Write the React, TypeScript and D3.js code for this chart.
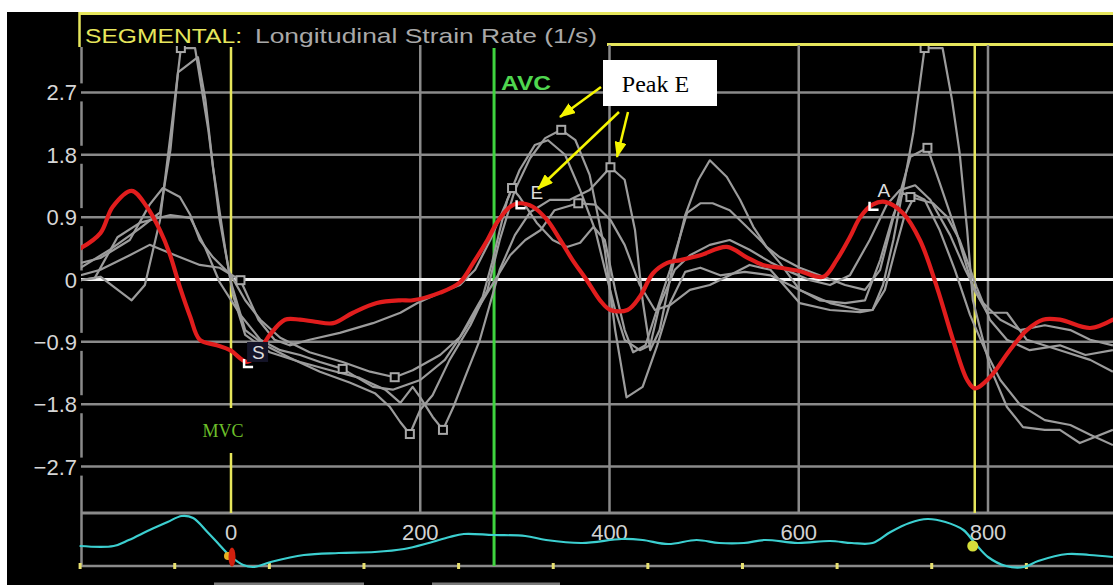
import React from 'react';
import * as d3 from 'd3';

const WIDTH = 1113;
const HEIGHT = 585;

// Axis ticks
const yTickValues = [2.7, 1.8, 0.9, 0, -0.9, -1.8, -2.7];
const timeGrid = [200, 400, 600, 800];
const stripTickLabels = [0, 200, 400, 600, 800];
const stripMinorTicks = [-160, -60, 40, 140, 240, 340, 440, 540, 640, 740, 840];

// Valve events (ms)
const mvcTime = 0;
const avcTime = 278;
const nextMvcTime = 786;

type Pt = [number, number];

// Global longitudinal strain rate (1/s) vs time (ms)
const globalRate: Pt[] = [
  [-159, 0.45], [-138, 0.67], [-125, 1.05], [-105, 1.28], [-89, 1.05], [-75, 0.71], [-65, 0.38],
  [-54, -0.11], [-43, -0.54], [-33, -0.87], [-15, -0.95], [-1, -1.02], [17, -1.19], [29, -1.05],
  [41, -0.8], [57, -0.58], [73, -0.58], [89, -0.61], [108, -0.63], [129, -0.48], [154, -0.34],
  [179, -0.3], [192, -0.3], [221, -0.19], [242, -0.04], [256, 0.24], [271, 0.57], [281, 0.82],
  [295, 1.05], [305, 1.1], [319, 1.05], [334, 0.86], [348, 0.57], [361, 0.28], [376, -0.01],
  [390, -0.3], [401, -0.44], [419, -0.44], [432, -0.25], [446, 0.09], [461, 0.24], [475, 0.28],
  [496, 0.35], [524, 0.47], [545, 0.32], [562, 0.21], [580, 0.17], [601, 0.12], [626, 0.04],
  [640, 0.28], [654, 0.61], [665, 0.9], [678, 1.08], [691, 1.12], [710, 0.96], [728, 0.57],
  [746, -0.11], [763, -0.87], [778, -1.45], [786, -1.57], [802, -1.41], [823, -1.02], [841, -0.73],
  [858, -0.58], [876, -0.58], [908, -0.7], [932, -0.58],
];

// Segmental strain rate curves (1/s) vs time (ms)
const segment1: Pt[] = [
  [-159, -0.01], [-138, 0.04], [-105, -0.3], [-91, -0.08], [-75, 0.86], [-62, 2.3], [-53, 3.34],
  [-38, 3.34], [-24, 2.16], [-12, 0.86], [0, -0.04], [15, -0.73], [36, -0.95], [62, -1.13],
  [94, -1.33], [126, -1.49], [152, -1.64], [168, -1.84], [179, -2.06], [189, -2.23], [200, -1.88],
  [213, -1.67], [231, -1.16], [253, -0.66], [271, -0.15], [284, 0.57], [300, 1.29], [316, 1.75],
  [332, 2.04], [349, 2.16], [364, 2.01], [379, 1.51], [395, 0.43], [406, -0.73], [418, -1.7],
  [435, -1.55], [450, -0.97], [464, -0.34], [480, 0.11], [496, 0.17], [517, 0.06], [543, 0.11],
  [570, 0.06], [601, -0.15], [633, -0.34], [665, -0.44], [678, -0.44], [689, -0.08], [700, 0.57],
  [712, 1.44], [721, 2.11], [733, 3.34], [752, 3.34], [762, 2.59], [770, 1.83], [778, 0.71],
  [784, -0.3], [802, -1.26], [820, -1.84], [837, -2.13], [860, -2.17], [876, -2.17], [897, -2.36],
  [932, -2.17],
];
const segment2: Pt[] = [
  [-159, 0.17], [-128, 0.43], [-96, 0.74], [-75, 0.97], [-64, 1.87], [-56, 2.99], [-35, 3.21],
  [-27, 2.59], [-19, 1.62], [-6, 0.43], [2, -0.22], [15, -0.8], [41, -1.05], [73, -1.19],
  [105, -1.31], [136, -1.42], [163, -1.59], [179, -1.78], [192, -1.55], [200, -1.7], [213, -1.98],
  [224, -2.17], [235, -1.84], [249, -1.35], [263, -0.87], [274, -0.34], [284, 0.14], [300, 0.64],
  [316, 0.97], [337, 1.15], [358, 1.15], [379, 1.29], [401, 1.62], [416, 1.44], [427, 0.71],
  [435, -0.3], [443, -1.02], [453, -0.73], [466, 0.14], [480, 0.93], [494, 1.44], [506, 1.72],
  [524, 1.48], [538, 1.15], [552, 0.76], [566, 0.47], [580, 0.32], [601, 0.17], [622, 0.06],
  [649, -0.08], [670, -0.15], [686, 0.14], [702, 1.0], [718, 1.77], [736, 1.9], [749, 1.39],
  [767, 0.67], [784, -0.11], [799, -0.48], [820, -0.48], [841, -0.87], [876, -1.02], [908, -1.16],
  [932, -1.33],
];
const segment3: Pt[] = [
  [-159, 0.24], [-138, 0.31], [-107, 0.57], [-86, 1.08], [-72, 1.32], [-54, 1.19], [-43, 0.93],
  [-33, 0.57], [-19, 0.32], [0, 0.06], [15, -0.3], [31, -0.58], [52, -0.84], [83, -1.05],
  [118, -1.19], [147, -1.33], [173, -1.41], [192, -1.31], [221, -1.09], [242, -0.83], [258, -0.44],
  [266, -0.25], [276, 0.25], [284, 0.71], [292, 1.15], [297, 1.32], [305, 1.19], [323, 0.82],
  [340, 0.57], [355, 0.47], [369, 0.53], [383, 0.76], [395, 0.57], [406, -0.15], [416, -0.73],
  [425, -1.05], [438, -0.95], [450, -0.44], [464, 0.14], [482, 0.96], [496, 1.1], [509, 1.1],
  [527, 1.0], [545, 0.76], [562, 0.53], [580, 0.24], [601, -0.15], [622, -0.3], [649, -0.34],
  [670, -0.3], [686, 0.28], [700, 0.93], [710, 1.25], [718, 1.19], [742, 1.1], [757, 0.9],
  [770, 0.57], [788, -0.11], [802, -0.58], [820, -0.87], [844, -1.02], [876, -0.95], [903, -1.09],
  [932, -1.02],
];
const segment4: Pt[] = [
  [-159, -0.01], [-144, 0.02], [-120, 0.61], [-96, 0.82], [-64, 0.93], [-43, 0.89], [-27, 0.45],
  [-12, -0.04], [10, -0.51], [31, -0.87], [52, -1.02], [73, -1.09], [94, -1.19], [118, -1.29],
  [150, -1.55], [171, -1.59], [200, -1.45], [226, -1.16], [247, -0.73], [263, -0.37], [279, -0.01],
  [295, 0.35], [311, 0.57], [327, 0.71], [342, 1.0], [367, 1.1], [385, 1.08], [401, 0.86],
  [416, 0.5], [432, -0.08], [448, -0.44], [464, -0.37], [485, -0.15], [506, -0.08], [527, 0.06],
  [548, 0.21], [570, 0.14], [601, -0.34], [633, -0.44], [665, -0.47], [678, -0.44], [691, -0.15],
  [702, 0.43], [712, 0.93], [723, 1.22], [733, 1.15], [749, 0.71], [765, 0.14], [781, -0.51],
  [797, -1.02], [813, -1.45], [834, -1.81], [860, -2.03], [887, -2.1], [908, -2.24], [932, -2.39],
];
const segment5: Pt[] = [
  [-159, 0.06], [-138, 0.14], [-107, 0.35], [-86, 0.5], [-59, 0.35], [-33, 0.21], [-12, 0.17],
  [10, -0.01], [29, -0.58], [46, -0.87], [62, -0.95], [83, -0.87], [115, -0.77], [150, -0.63],
  [179, -0.48], [197, -0.34], [221, -0.19], [242, -0.08], [258, 0.14], [274, 0.57], [290, 1.08],
  [305, 1.58], [321, 1.94], [335, 2.01], [353, 1.8], [369, 1.29], [385, 0.71], [398, -0.01],
  [406, -0.44], [416, -0.87], [432, -1.02], [443, -0.95], [453, -0.37], [469, 0.14], [485, 0.35],
  [506, 0.5], [527, 0.57], [548, 0.43], [570, 0.25], [591, 0.11], [612, -0.01], [633, -0.08],
  [654, 0.06], [675, 0.57], [693, 1.08], [707, 1.29], [723, 1.36], [739, 1.15], [760, 0.64],
  [776, 0.14], [792, -0.3], [813, -0.58], [834, -0.73], [860, -0.66], [887, -0.73], [908, -0.87],
  [932, -0.95],
];
const segments = [segment1, segment2, segment3, segment4, segment5];

// Times (ms) of the peak markers on each segment curve
const segmentPeakTimes: number[][] = [
  [-53, 189, 349, 733],
  [224, 401, 736],
  [173, 297, 718],
  [118, 367],
  [10],
];

// Peak markers on the global curve
const globalPeakLabels = ['S', 'E', 'A'];
const globalPeakTimes = [17, 305, 678];

// ECG reference strip (time ms, amplitude)
const ecgTrace: Pt[] = [
  [-160, -0.12], [-124, -0.12], [-108, 0.12], [-86, 0.52], [-67, 0.84], [-52, 1.08], [-40, 1.0],
  [-25, 0.44], [-14, 0], [-2, -0.48], [13, -0.88], [24, -0.96], [42, -0.76], [77, -0.48],
  [114, -0.4], [152, -0.36], [183, -0.24], [209, 0], [231, 0.24], [246, 0.36], [277, 0.32],
  [311, 0.28], [333, 0.12], [371, 0], [413, 0.16], [435, 0.12], [462, -0.04], [492, 0.12],
  [516, 0], [542, 0], [564, 0.12], [599, 0], [633, 0.08], [656, 0], [678, 0], [697, 0.44],
  [717, 0.8], [736, 0.96], [755, 0.84], [774, 0.52], [786, 0], [800, -0.56], [819, -0.92],
  [838, -0.96], [853, -0.72], [884, -0.44], [907, -0.48], [932, -0.56],
];

const annotationText = 'Peak E';

// Layout
const plotLeft = 81;
const plotRight = WIDTH;
const plotTop = 45;
const plotBottom = 513;
const stripBottom = 566;

const x = d3.scaleLinear().domain([0, 800]).range([231, 988]);
const y = d3.scaleLinear().domain([-2.7, 2.7]).range([466.6, 92.4]);
const ecgY = d3.scaleLinear().domain([-1, 1]).range([568, 518]);

const segLine = d3.line<Pt>().x((d) => x(d[0])).y((d) => y(d[1]));
const globalLine = d3
  .line<Pt>()
  .x((d) => x(d[0]))
  .y((d) => y(d[1]))
  .curve(d3.curveCatmullRom.alpha(0.5));
const ecgLine = d3
  .line<Pt>()
  .x((d) => x(d[0]))
  .y((d) => ecgY(d[1]))
  .curve(d3.curveCatmullRom.alpha(0.5));

const SANS = 'Liberation Sans, Arial, Helvetica, sans-serif';
const SERIF = 'Liberation Serif, Times New Roman, serif';
const GRID = '#8a8a8a';
const YELLOW = '#e6e65c';
const GREEN = '#3fd43f';
const ARROW = '#f5f500';

// label offsets for the S / E / A tags
const tagDx: Record<string, number> = { S: 5, E: 11, A: 5 };
const tagDy: Record<string, number> = { S: -3, E: -4, A: -8 };

function valueAt(series: Pt[], t: number): number {
  const p = series.find((d) => d[0] === t);
  return p ? p[1] : 0;
}

export default function App() {
  const mvcX = x(mvcTime);
  const avcX = x(avcTime);
  const nextX = x(nextMvcTime);

  return (
    <svg
      width={WIDTH}
      height={HEIGHT}
      viewBox={`0 0 ${WIDTH} ${HEIGHT}`}
      style={{ position: 'absolute', left: 0, top: 0, display: 'block', background: '#fff' }}
    >
      <defs>
        <clipPath id="plotClip">
          <rect x={plotLeft} y={plotTop + 1} width={plotRight - plotLeft} height={plotBottom - plotTop - 1} />
        </clipPath>
        <marker
          id="arrowHead"
          viewBox="0 0 16 12"
          refX={15}
          refY={6}
          markerWidth={16}
          markerHeight={12}
          markerUnits="userSpaceOnUse"
          orient="auto"
        >
          <path d="M0,0 L16,6 L0,12 Z" fill={ARROW} />
        </marker>
      </defs>

      {/* screen background */}
      <rect x={7} y={12} width={WIDTH - 7} height={HEIGHT - 12} fill="#000" />

      {/* title frame */}
      <line x1={79} x2={WIDTH} y1={13.5} y2={13.5} stroke={YELLOW} strokeWidth={3} />
      <line x1={79.5} x2={79.5} y1={12} y2={47} stroke={YELLOW} strokeWidth={2.5} />
      <line x1={607} x2={WIDTH} y1={44.5} y2={44.5} stroke={YELLOW} strokeWidth={3} />
      <text x={85} y={43} fontFamily={SANS} fontSize={21} fill={YELLOW} textLength={157} lengthAdjust="spacingAndGlyphs">
        SEGMENTAL:
      </text>
      <text x={255} y={43} fontFamily={SANS} fontSize={21} fill="#a9a9a9" textLength={342} lengthAdjust="spacingAndGlyphs">
        Longitudinal Strain Rate (1/s)
      </text>

      {/* left axis line */}
      <line x1={81.5} x2={81.5} y1={47} y2={stripBottom} stroke={GRID} strokeWidth={2.5} />

      {/* y tick labels with background knockout */}
      {yTickValues.map((v) => (
        <g key={`yl${v}`}>
          <rect x={28} y={y(v) - 9} width={55} height={18} fill="#000" />
          <text
            x={77}
            y={y(v) + 8}
            textAnchor="end"
            fontFamily={SANS}
            fontSize={22}
            fill="#d6d6d6"
          >
            {v === 0 ? '0' : d3.format('.1f')(v)}
          </text>
        </g>
      ))}

      {/* horizontal grid */}
      {yTickValues
        .filter((v) => v !== 0)
        .map((v) => (
          <line key={`hg${v}`} x1={plotLeft} x2={plotRight} y1={y(v)} y2={y(v)} stroke={GRID} strokeWidth={2.5} />
        ))}

      {/* vertical grid */}
      {timeGrid.map((t) => (
        <line key={`vg${t}`} x1={x(t)} x2={x(t)} y1={plotTop} y2={plotBottom} stroke={GRID} strokeWidth={2.5} />
      ))}

      {/* zero line */}
      <line x1={plotLeft} x2={plotRight} y1={y(0)} y2={y(0)} stroke="#f4f4f4" strokeWidth={3} />

      {/* plot / strip separators */}
      <line x1={plotLeft} x2={plotRight} y1={plotBottom} y2={plotBottom} stroke={GRID} strokeWidth={3} />
      <line x1={plotLeft} x2={plotRight} y1={stripBottom} y2={stripBottom} stroke={GRID} strokeWidth={2.5} />

      {/* valve event lines */}
      <line x1={mvcX} x2={mvcX} y1={plotTop + 2} y2={408} stroke={YELLOW} strokeWidth={2.5} />
      <line x1={mvcX} x2={mvcX} y1={453} y2={plotBottom} stroke={YELLOW} strokeWidth={2.5} />
      <line x1={nextX} x2={nextX} y1={plotTop} y2={plotBottom} stroke={YELLOW} strokeWidth={2.5} />
      <line x1={avcX} x2={avcX} y1={48} y2={stripBottom} stroke={GREEN} strokeWidth={3} />
      <text x={501} y={90} fontFamily={SANS} fontSize={21} fontWeight="bold" fill="#4fd64f" textLength={50} lengthAdjust="spacingAndGlyphs">
        AVC
      </text>
      <text x={223} y={437} textAnchor="middle" fontFamily={SERIF} fontSize={18} fill="#6cbf2a">
        MVC
      </text>

      {/* segmental curves */}
      <g clipPath="url(#plotClip)">
        {segments.map((s, i) => (
          <path key={`seg${i}`} d={segLine(s) || ''} fill="none" stroke="#9c9c9c" strokeWidth={2.2} strokeLinejoin="round" />
        ))}
        {segments.map((s, i) =>
          segmentPeakTimes[i].map((t) => (
            <rect
              key={`sq${i}-${t}`}
              x={x(t) - 4}
              y={y(valueAt(s, t)) - 4}
              width={8}
              height={8}
              fill="#000"
              stroke="#a8a8a8"
              strokeWidth={2}
            />
          )),
        )}
        <path d={globalLine(globalRate) || ''} fill="none" stroke="#e11d1d" strokeWidth={4.2} strokeLinejoin="round" strokeLinecap="round" />
      </g>

      {/* global peak markers */}
      {globalPeakTimes.map((t, i) => {
        const px = x(t);
        const py = y(valueAt(globalRate, t));
        const label = globalPeakLabels[i];
        return (
          <g key={`gp${label}`}>
            {label === 'S' && <rect x={px} y={py - 20} width={21} height={20} fill="#141428" />}
            <path
              d={`M${px - 3},${py - 3} V${py + 5} H${px + 6}`}
              fill="none"
              stroke="#ffffff"
              strokeWidth={2.5}
            />
            <text x={px + tagDx[label]} y={py + tagDy[label]} fontFamily={SANS} fontSize={19} fill="#dcdcdc">
              {label}
            </text>
          </g>
        );
      })}

      {/* ECG strip */}
      {stripMinorTicks.map((t) => (
        <rect key={`mt${t}`} x={x(t) - 1} y={stripBottom - 3} width={3} height={6} fill="#e8e070" />
      ))}
      {stripTickLabels.map((t) => (
        <text key={`tl${t}`} x={x(t)} y={540} textAnchor="middle" fontFamily={SANS} fontSize={22} fill="#d2d2d2">
          {t}
        </text>
      ))}
      <path d={ecgLine(ecgTrace) || ''} fill="none" stroke="#3ccfd0" strokeWidth={2.2} />
      <circle cx={mvcX - 3} cy={556} r={4} fill="#e8b020" />
      <ellipse cx={mvcX + 1} cy={557} rx={3.5} ry={9.5} fill="#d2200e" />
      <circle cx={nextX - 2} cy={546} r={5.5} fill="#d4de3a" />

      {/* bottom tabs */}
      <line x1={214} x2={364} y1={584} y2={584} stroke="#7a7a7a" strokeWidth={3} />
      <line x1={432} x2={560} y1={584} y2={584} stroke="#7a7a7a" strokeWidth={3} />

      {/* annotation */}
      <rect x={603} y={60} width={114} height={46} fill="#ffffff" />
      <text x={655.5} y={92} textAnchor="middle" fontFamily={SERIF} fontSize={24} fill="#000">
        {annotationText}
      </text>
      <line x1={601} y1={87} x2={560} y2={117} stroke={ARROW} strokeWidth={2.5} markerEnd="url(#arrowHead)" />
      <line x1={619} y1={112} x2={538} y2={189} stroke={ARROW} strokeWidth={2.5} markerEnd="url(#arrowHead)" />
      <line x1={628} y1={112} x2={617} y2={157} stroke={ARROW} strokeWidth={2.5} markerEnd="url(#arrowHead)" />
    </svg>
  );
}
